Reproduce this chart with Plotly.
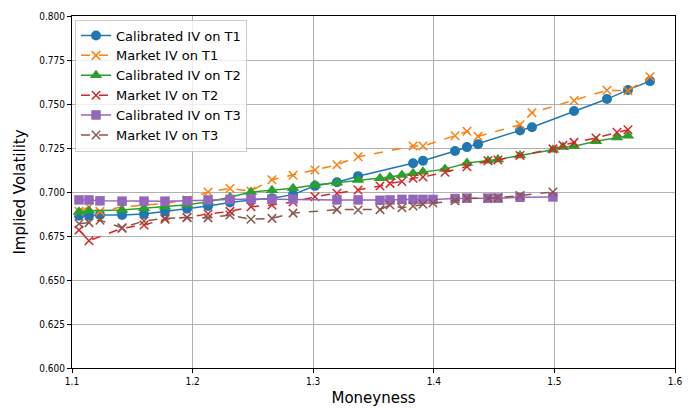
import plotly.graph_objects as go

# ---- data ----
m_t1 = [1.1058, 1.1141, 1.1232, 1.1415, 1.1597, 1.1771, 1.1954, 1.2128, 1.2310, 1.2484,
        1.2658, 1.2833, 1.3015, 1.3197, 1.3372, 1.3828, 1.3910, 1.4176, 1.4275, 1.4367,
        1.4715, 1.4814, 1.5163, 1.5436, 1.5610, 1.5793]
cal_t1 = [0.6865, 0.6865, 0.6870, 0.6870, 0.6875, 0.6890, 0.6905, 0.6920, 0.6940, 0.6955,
          0.6965, 0.6985, 0.7035, 0.7055, 0.7090, 0.7163, 0.7178, 0.7233, 0.7255, 0.7272,
          0.7350, 0.7368, 0.7460, 0.7528, 0.7580, 0.7630]
mkt_t1 = [0.6890, 0.6915, 0.6890, 0.6915, 0.6925, 0.6935, 0.6955, 0.7000, 0.7020, 0.7005,
          0.7070, 0.7095, 0.7125, 0.7155, 0.7200, 0.7261, 0.7261, 0.7320, 0.7345, 0.7316,
          0.7382, 0.7450, 0.7520, 0.7578, 0.7575, 0.7655]

m_t2 = [1.1058, 1.1141, 1.1415, 1.1597, 1.1771, 1.1954, 1.2128, 1.2310, 1.2484, 1.2658,
        1.2833, 1.3015, 1.3197, 1.3372, 1.3554, 1.3637, 1.3736, 1.3828, 1.3910, 1.4093,
        1.4275, 1.4449, 1.4532, 1.4715, 1.4988, 1.5071, 1.5163, 1.5345, 1.5519, 1.5610]
cal_t2 = [0.6888, 0.6894, 0.6898, 0.6907, 0.6916, 0.6928, 0.6945, 0.6970, 0.7000, 0.7010,
          0.7022, 0.7040, 0.7053, 0.7068, 0.7078, 0.7085, 0.7097, 0.7106, 0.7115, 0.7130,
          0.7165, 0.7178, 0.7184, 0.7208, 0.7240, 0.7255, 0.7260, 0.7288, 0.7310, 0.7320]
mkt_t2 = [0.6784, 0.6723, 0.6794, 0.6813, 0.6845, 0.6856, 0.6875, 0.6890, 0.6916, 0.6926,
          0.6943, 0.6973, 0.6993, 0.7011, 0.7034, 0.7049, 0.7060, 0.7078, 0.7085, 0.7112,
          0.7144, 0.7178, 0.7182, 0.7207, 0.7245, 0.7265, 0.7282, 0.7307, 0.7340, 0.7354]

m_t3 = [1.1058, 1.1141, 1.1232, 1.1415, 1.1597, 1.1771, 1.1954, 1.2128, 1.2310, 1.2484,
        1.2658, 1.2833, 1.3197, 1.3372, 1.3554, 1.3637, 1.3736, 1.3828, 1.3910, 1.3993,
        1.4176, 1.4275, 1.4449, 1.4532, 1.4715, 1.4988]
cal_t3 = [0.6955, 0.6955, 0.6950, 0.6948, 0.6948, 0.6948, 0.6950, 0.6955, 0.6958, 0.6960,
          0.6958, 0.6960, 0.6955, 0.6955, 0.6953, 0.6955, 0.6958, 0.6958, 0.6958, 0.6958,
          0.6963, 0.6965, 0.6965, 0.6965, 0.6970, 0.6972]
mkt_t3 = [0.6820, 0.6826, 0.6840, 0.6797, 0.6835, 0.6851, 0.6854, 0.6853, 0.6869, 0.6845,
          0.6850, 0.6880, 0.6900, 0.6898, 0.6900, 0.6926, 0.6910, 0.6920, 0.6930, 0.6937,
          0.6950, 0.6965, 0.6965, 0.6967, 0.6980, 0.7000]

x_ticks = [1.1, 1.2, 1.3, 1.4, 1.5, 1.6]
x_tick_labels = ["1.1", "1.2", "1.3", "1.4", "1.5", "1.6"]
y_ticks = [0.600, 0.625, 0.650, 0.675, 0.700, 0.725, 0.750, 0.775, 0.800]
y_tick_labels = ["0.600", "0.625", "0.650", "0.675", "0.700", "0.725", "0.750", "0.775", "0.800"]

series = [
    ("Calibrated IV on T1", m_t1, cal_t1, "#1f77b4", "solid", "circle"),
    ("Market IV on T1", m_t1, mkt_t1, "#ff7f0e", "dash", "x-thin"),
    ("Calibrated IV on T2", m_t2, cal_t2, "#2ca02c", "solid", "triangle-up"),
    ("Market IV on T2", m_t2, mkt_t2, "#d62728", "dash", "x-thin"),
    ("Calibrated IV on T3", m_t3, cal_t3, "#9467bd", "solid", "square"),
    ("Market IV on T3", m_t3, mkt_t3, "#8c564b", "dash", "x-thin"),
]

sizes = {"circle": 10, "triangle-up": 11, "square": 9.5, "x-thin": 8.5}

fig = go.Figure()
for name, xs, ys, col, dash, sym in series:
    if sym == "x-thin":
        marker = dict(symbol=sym, size=sizes[sym], color=col, line=dict(color=col, width=1.5))
    else:
        marker = dict(symbol=sym, size=sizes[sym], color=col, line=dict(width=0))
    fig.add_trace(go.Scatter(
        x=xs, y=ys, name=name, mode="lines+markers",
        line=dict(color=col, width=1.5, dash=dash),
        marker=marker,
    ))

axis_common = dict(
    showline=True, linecolor="black", linewidth=1, mirror=True,
    showgrid=True, gridcolor="#b0b0b0", gridwidth=0.8,
    ticks="outside", ticklen=4, tickcolor="black", tickwidth=1,
    zeroline=False, automargin=False,
    tickfont=dict(family="DejaVu Sans Condensed, DejaVu Sans", size=10, color="black"),
)

fig.update_layout(
    width=689, height=409,
    margin=dict(l=72, r=14, t=16, b=41),
    paper_bgcolor="white", plot_bgcolor="white",
    font=dict(family="DejaVu Sans", color="black"),
    xaxis=dict(range=[1.1, 1.6], tickvals=x_ticks, ticktext=x_tick_labels,
               title=dict(text="Moneyness", font=dict(size=15), standoff=6), **axis_common),
    yaxis=dict(range=[0.6, 0.8], tickvals=y_ticks, ticktext=y_tick_labels,
               title=dict(text="Implied Volatility", font=dict(size=15), standoff=10), **axis_common),
    legend=dict(x=0.005, y=0.99, xanchor="left", yanchor="top",
                bgcolor="rgba(255,255,255,0.8)", bordercolor="#cccccc", borderwidth=1,
                font=dict(size=13, family="DejaVu Sans"), tracegroupgap=0,
                itemwidth=30),
    showlegend=True,
)

fig.write_html("out.html")
